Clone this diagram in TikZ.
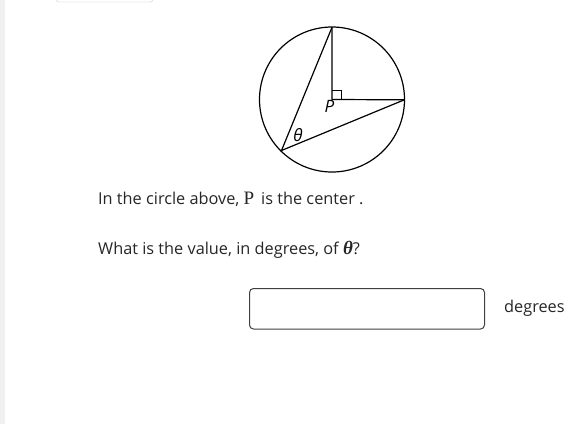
\documentclass[tikz,border=0pt]{standalone}
\usepackage{fontspec}
\setmainfont{Open Sans}
\newfontfamily\serifP{Liberation Serif}
\usetikzlibrary{calc}
\begin{document}
\begin{tikzpicture}[x=1pt,y=-1pt,
  geo/.style={line width=1.2pt,black},
  lbl/.style={inner sep=0pt,font=\fontsize{17}{20}\selectfont\itshape},
  txt/.style={anchor=base west,inner sep=0pt,font=\fontsize{16.3}{19}\selectfont,text=black!85}]
\useasboundingbox[fill=white] (0,0) rectangle (585,424);
\fill[black!6] (0,0) rectangle (5,424);
\draw[black!22,fill=white,rounded corners=3pt] (56,-10) rectangle (153,2);
% circle
\coordinate (P) at (332,99.5);
\node[draw,circle,geo,minimum size=145pt,inner sep=0pt] (circ) at (P) {};
\coordinate (T) at (332,27.3);
\coordinate (R) at (404.3,99.8);
\coordinate (L) at (281.5,150.5);
\draw[geo] (T) -- (P) -- (R);
\draw[geo] (T) -- (L) -- (R);
\draw[line width=0.8pt] (332,90.5) -- (341,90.5) -- (341,99.5);
\node[lbl] (plabel) at (329.5,106.5) {P};
\node[lbl] (tlabel) at (298,135) {θ};
% text
\node[txt] (l1) at (98,204) {In the circle above, {\serifP\fontsize{19}{20}\selectfont P}\, is the center .};
\node[txt] (l2) at (98,254) {What is the value, in degrees, of {\serifP\bfseries\itshape\fontsize{19}{20}\selectfont θ}?};
\draw[black!75,line width=1pt,rounded corners=4pt] (249.5,288.5) rectangle (484.5,329) node[pos=0.5] (box) {};
\node[txt] (deg) at (504,312) {degrees};
\end{tikzpicture}
\end{document}
